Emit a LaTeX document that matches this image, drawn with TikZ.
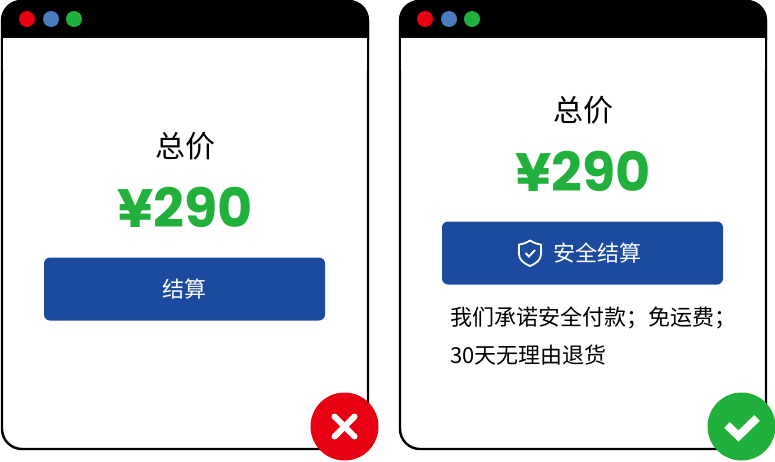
\documentclass[tikz,border=0pt]{standalone}
\usepackage{fontspec}
\setmainfont{Noto Sans CJK SC}
\newfontfamily\pricefont{Poppins}
\definecolor{btnblue}{HTML}{1C4A9F}
\definecolor{okgreen}{HTML}{22B03C}
\definecolor{badred}{HTML}{E60012}
\definecolor{dotblue}{HTML}{4A7CBF}
\tikzset{
  windowframe/.style={line width=2.4pt, draw=black, fill=white, rounded corners=20pt},
  titledot/.style={circle, minimum size=16pt, inner sep=0pt},
  titletext/.style={font=\fontsize{30}{30}\selectfont, text=black},
  pricetext/.style={font=\pricefont\bfseries\fontsize{54}{54}\selectfont, text=okgreen},
  paybutton/.style={fill=btnblue, rounded corners=6pt, minimum width=281pt, minimum height=63pt, inner sep=0pt},
  btntext/.style={font=\fontsize{22}{22}\selectfont, text=white},
  notetext/.style={font=\fontsize{22}{22}\selectfont, text=black, anchor=west, inner sep=0pt},
  badge/.style={circle, minimum size=68pt, inner sep=0pt}
}
\begin{document}
\begin{tikzpicture}[x=1pt, y=-1pt]
    \useasboundingbox (0,0) rectangle (775,461);

    % 两个窗口
    \foreach \winx in {0,398} {
        \draw[windowframe] (\winx+2,1) rectangle (\winx+368,449);
        \fill[black, rounded corners=20pt] (\winx+1,60) -- (\winx+1,0) -- (\winx+369,0) -- (\winx+369,60) -- cycle;
        \fill[white] (\winx+3.2,38) rectangle (\winx+366.8,70);
    }
    \node[titledot, fill=badred] (reddotl) at (27,19) {};
    \node[titledot, fill=dotblue] (bluedotl) at (51,19) {};
    \node[titledot, fill=okgreen] (greendotl) at (74,19) {};
    \node[titledot, fill=badred] (reddotr) at (425,19) {};
    \node[titledot, fill=dotblue] (bluedotr) at (449,19) {};
    \node[titledot, fill=okgreen] (greendotr) at (472,19) {};

    % 左边
    \node[titletext] (titlel) at (185,146) {总价};
    \node[pricetext] (pricel) at (185,207) {¥290};
    \node[paybutton] (btnl) at (184.5,289) {};
    \node[btntext] at (btnl) {结算};

    % 右边
    \node[titletext] (titler) at (583,110) {总价};
    \node[pricetext] (pricer) at (583,171) {¥290};
    \node[paybutton] (btnr) at (582.5,253) {};
    \node[btntext] (btnlabelr) at (597.5,253) {安全结算};
    \node[notetext] (notea) at (450,318) {我们承诺安全付款；免运费；};
    \node[notetext] (noteb) at (450,355) {30天无理由退货};

    % 盾牌
    \draw[white, line width=1.8pt, line join=round]
        (530,240.5) .. controls (534,243) and (537,244) .. (541,244.5) -- (541,254)
        .. controls (541,260) and (536,263.5) .. (530,266)
        .. controls (524,263.5) and (519,260) .. (519,254) -- (519,244.5)
        .. controls (523,244) and (526,243) .. (530,240.5) -- cycle;
    \draw[white, line width=1.8pt] (525.5,253) -- (529,256.5) -- (535,250);

    % 标记
    \node[badge, fill=badred] (crossmark) at (344.5,426.5) {};
    \draw[white, line width=6pt, line cap=round] (334.5,416.5) -- (354.5,436.5);
    \draw[white, line width=6pt, line cap=round] (354.5,416.5) -- (334.5,436.5);
    \node[badge, fill=okgreen] (checkmark) at (741.5,426.5) {};
    \draw[white, line width=8pt] (727,425) -- (738.5,436) -- (757,418);
\end{tikzpicture}
\end{document}
